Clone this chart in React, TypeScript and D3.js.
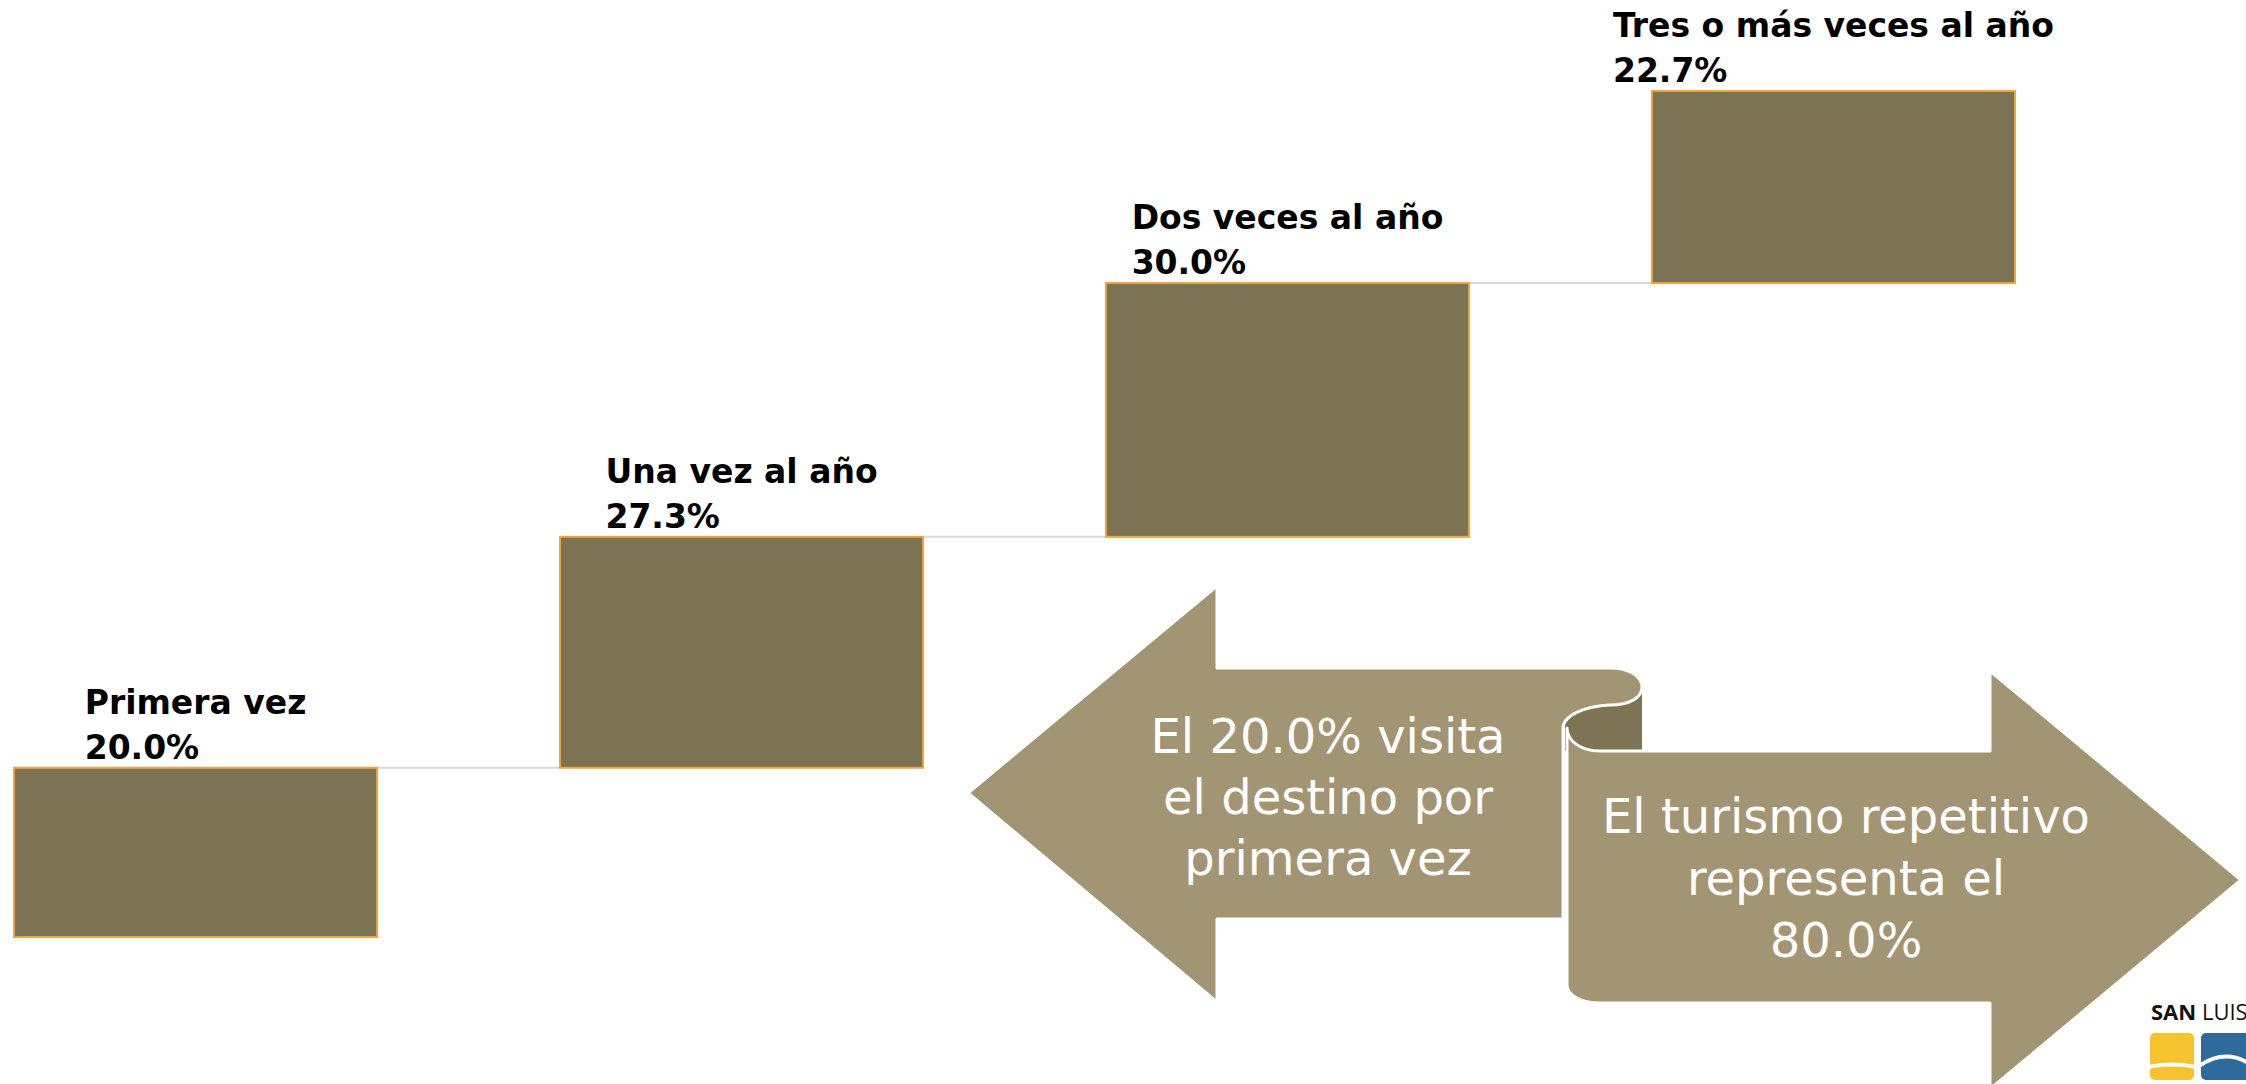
import React, { useEffect, useRef } from 'react';
import * as d3 from 'd3';

// visit frequency (waterfall steps)
const categories = ['Primera vez', 'Una vez al año', 'Dos veces al año', 'Tres o más veces al año'];
const values = [20.0, 27.3, 30.0, 22.7];

// callout texts
const leftArrowLines = ['El 20.0% visita', 'el destino por', 'primera vez'];
const rightArrowLines = ['El turismo repetitivo', 'representa el', '80.0%'];

const WIDTH = 2246;
const HEIGHT = 1084;

const BAR_FILL = '#7c7254';
const BAR_STROKE = '#f0a43a';
const ARROW_FILL = '#a29573';
const ARROW_DARK = '#7d7456';

const App: React.FC = () => {
  const svgRef = useRef<SVGSVGElement>(null);

  useEffect(() => {
    if (!svgRef.current) return;
    const svg = d3.select(svgRef.current);
    svg.selectAll('*').remove();

    const x = d3.scaleBand<string>()
      .domain(categories)
      .range([14, 2015])
      .paddingInner(0.335)
      .paddingOuter(0);

    const y = d3.scaleLinear().domain([0, 100]).range([937, 91]);

    // cumulative start/end for each step
    let acc = 0;
    const steps = categories.map((c, i) => {
      const start = acc;
      acc += values[i];
      return { cat: c, value: values[i], start, end: acc };
    });

    // connector lines between steps
    svg.append('g')
      .selectAll('line')
      .data(steps.slice(0, -1))
      .enter()
      .append('line')
      .attr('x1', (d) => (x(d.cat) || 0) + x.bandwidth())
      .attr('x2', (d, i) => x(categories[i + 1]) || 0)
      .attr('y1', (d) => y(d.end))
      .attr('y2', (d) => y(d.end))
      .attr('stroke', '#d9d9d9')
      .attr('stroke-width', 2);

    // bars
    svg.append('g')
      .selectAll('rect')
      .data(steps)
      .enter()
      .append('rect')
      .attr('x', (d) => x(d.cat) || 0)
      .attr('y', (d) => y(d.end))
      .attr('width', x.bandwidth())
      .attr('height', (d) => y(d.start) - y(d.end))
      .attr('fill', BAR_FILL)
      .attr('stroke', BAR_STROKE)
      .attr('stroke-width', 2);

    // labels: left aligned block, centered over the bar
    steps.forEach((d) => {
      const g = svg.append('g');
      const t = g.append('text')
        .attr('font-family', '"DejaVu Sans", Verdana, sans-serif')
        .attr('font-weight', 'bold')
        .attr('font-size', 33)
        .attr('fill', '#000');
      t.append('tspan').attr('x', 0).attr('y', y(d.end) - 54).text(d.cat);
      t.append('tspan').attr('x', 0).attr('y', y(d.end) - 9).text(`${d.value.toFixed(1)}%`);
      const w = (t.node() as SVGTextElement).getBBox().width;
      const cx = (x(d.cat) || 0) + x.bandwidth() / 2;
      g.attr('transform', `translate(${cx - w / 2},0)`);
    });

    // opposing arrows
    const arrows = svg.append('g');

    arrows.append('rect')
      .attr('x', 1565)
      .attr('y', 686)
      .attr('width', 77)
      .attr('height', 65)
      .attr('fill', ARROW_DARK);

    arrows.append('path')
      .attr('d',
        'M968,793 L1217,586 L1217,668 L1610,668 C1629,668 1642,676 1642,687 ' +
        'C1642,698 1629,705 1610,705 C1584,706 1563,716 1563,728 ' +
        'L1563,919 L1217,919 L1217,1002 Z')
      .attr('fill', ARROW_FILL)
      .attr('stroke', '#fff')
      .attr('stroke-width', 3)
      .attr('stroke-linejoin', 'round');

    arrows.append('path')
      .attr('d',
        'M1567,728 C1567,741 1581,751 1600,751 L1990,751 L1990,671 L2241,880 ' +
        'L1990,1089 L1990,1003 L1600,1003 C1581,1003 1567,995 1567,985 Z')
      .attr('fill', ARROW_FILL)
      .attr('stroke', '#fff')
      .attr('stroke-width', 3)
      .attr('stroke-linejoin', 'round');

    const arrowText = (lines: string[], cx: number, y0: number, gap: number) => {
      const t = arrows.append('text')
        .attr('font-family', '"DejaVu Sans", Verdana, sans-serif')
        .attr('font-size', 48)
        .attr('fill', '#fff')
        .attr('text-anchor', 'middle');
      lines.forEach((l, i) => {
        t.append('tspan').attr('x', cx).attr('y', y0 + i * gap).text(l);
      });
    };
    arrowText(leftArrowLines, 1328, 753, 61);
    arrowText(rightArrowLines, 1846, 833, 62);

    // logo
    const logo = svg.append('g');
    logo.append('text')
      .attr('x', 2151)
      .attr('y', 1020)
      .attr('font-family', '"Open Sans", "DejaVu Sans", sans-serif')
      .attr('font-size', 22)
      .attr('fill', '#111')
      .call((t) => {
        t.append('tspan').attr('font-weight', 'bold').text('SAN ');
        t.append('tspan').text('LUIS');
      });
    logo.append('rect')
      .attr('x', 2150).attr('y', 1033).attr('width', 44).attr('height', 47)
      .attr('rx', 5).attr('fill', '#f6c22d');
    logo.append('rect')
      .attr('x', 2201).attr('y', 1033).attr('width', 50).attr('height', 47)
      .attr('rx', 5).attr('fill', '#2f6a9c');
    logo.append('path')
      .attr('d', 'M2148,1067 Q2172,1062 2196,1067 M2199,1066 Q2225,1048 2250,1064')
      .attr('fill', 'none')
      .attr('stroke', '#fff')
      .attr('stroke-width', 4);
  }, []);

  return (
    <svg
      ref={svgRef}
      width={WIDTH}
      height={HEIGHT}
      style={{ position: 'absolute', left: 0, top: 0, background: '#fff' }}
    />
  );
};

export default App;
